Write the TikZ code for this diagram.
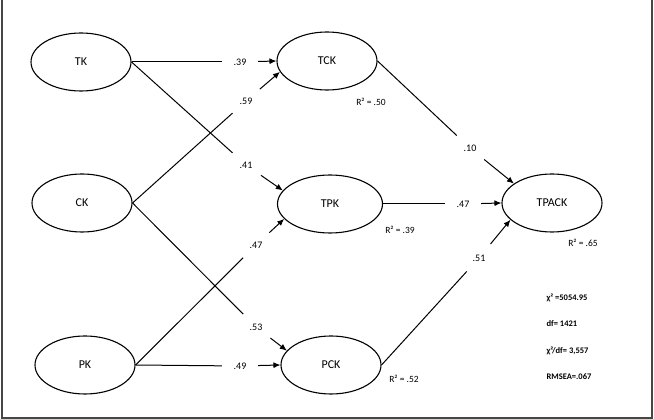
\documentclass[tikz,border=0pt]{standalone}
\usepackage{fontspec}
\setmainfont{Carlito}
\usetikzlibrary{arrows.meta,shapes.geometric}
\definecolor{framegray}{RGB}{70,70,70}
\newcommand{\fs}[1]{\fontsize{#1}{#1}\selectfont}

\begin{document}
\begin{tikzpicture}[x=1pt,y=-1pt,
  latent/.style={ellipse, draw, line width=1.1pt, minimum width=100pt, minimum height=58pt, inner sep=0pt, font=\fs{12}},
  coef/.style={circle, minimum size=36pt, inner sep=0pt, font=\fs{10}},
  rsq/.style={font=\fs{9.5}},
  fitstat/.style={anchor=west, font=\bfseries\fs{8.5}},
  link/.style={line width=1pt},
  arr/.style={line width=1pt, -{Latex[length=7pt,width=6pt]}}]
  \useasboundingbox (0,0) rectangle (654,419);
  \draw[framegray, line width=1.2pt] (2,0) -- (2,418) -- (652,418) -- (652,0);

  \node[latent] (TK) at (81,62) {TK};
  \node[latent] (CK) at (82,203) {CK};
  \node[latent] (PK) at (85,365) {PK};
  \node[latent] (TCK) at (327,61) {TCK};
  \node[latent, minimum width=105pt] (TPK) at (330,204) {TPK};
  \node[latent] (PCK) at (331,365) {PCK};
  \node[latent] (TPACK) at (552,203) {TPACK};

  \node[coef] (c39) at (240,62) {.39};
  \node[coef] (c59) at (246,101) {.59};
  \node[coef] (c41) at (246,165) {.41};
  \node[coef] (c47a) at (256,245) {.47};
  \node[coef] (c53) at (256,327) {.53};
  \node[coef] (c49) at (240,366) {.49};
  \node[coef] (c10) at (470,148) {.10};
  \node[coef] (c47b) at (463,204) {.47};
  \node[coef] (c51) at (479,258) {.51};

  \draw[link] (TK.east) -- (c39);   \draw[arr] (c39) -- (TCK.west);
  \draw[link] (CK.east) -- (c59);   \draw[arr] (c59) -- (TCK.193);
  \draw[link] (TK.east) -- (c41);   \draw[arr] (c41) -- (TPK.164);
  \draw[link] (PK.east) -- (c47a);  \draw[arr] (c47a) -- (TPK.198);
  \draw[link] (CK.east) -- (c53);   \draw[arr] (c53) -- (PCK.162);
  \draw[link] (PK.east) -- (c49);   \draw[arr] (c49) -- (PCK.west);
  \draw[link] (TCK.east) -- (c10);  \draw[arr] (c10) -- (TPACK.153);
  \draw[link] (TPK.east) -- (c47b); \draw[arr] (c47b) -- (TPACK.west);
  \draw[link] (PCK.east) -- (c51);  \draw[arr] (c51) -- (TPACK.202);

  \node[rsq] (rTCK) at (371,102) {R² = .50};
  \node[rsq] (rTPK) at (400,230) {R² = .39};
  \node[rsq] (rTPACK) at (583,243) {R² = .65};
  \node[rsq] (rPCK) at (404,379) {R² = .52};

  \node[fitstat] (chi) at (543,298) {χ² =5054.95};
  \node[fitstat] (df) at (543,324) {df= 1421};
  \node[fitstat] (chidf) at (543,351) {χ²/df= 3,557};
  \node[fitstat] (rmsea) at (543,377) {RMSEA=.067};
\end{tikzpicture}
\end{document}
